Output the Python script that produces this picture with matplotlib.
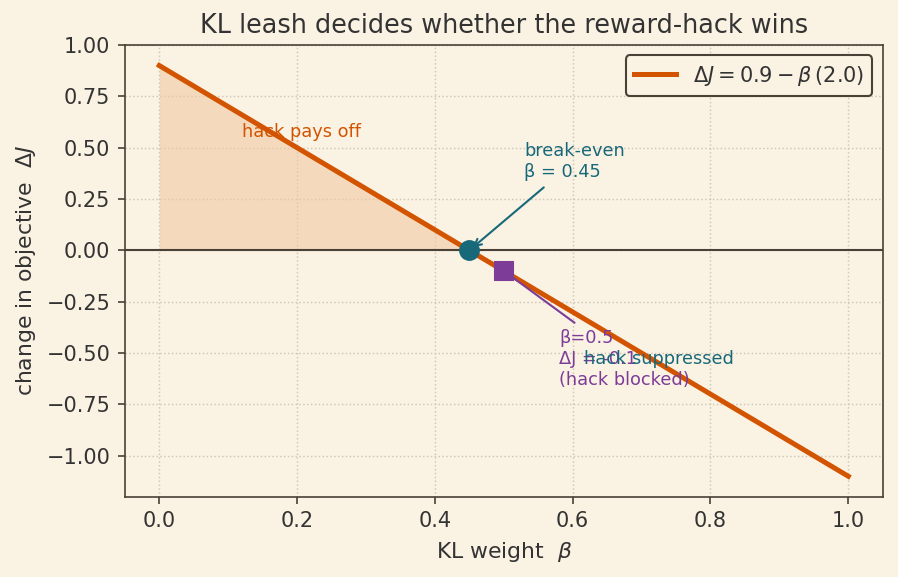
import numpy as np
import matplotlib
matplotlib.use("Agg")
import matplotlib.pyplot as plt

base_gain = 0.9
kl_slope = 2.0
beta_grid = [0.0, 1.0]
delta_grid = [base_gain - kl_slope * b for b in beta_grid]
break_even_beta = 0.45
break_even_delta = 0.0
chosen_beta = 0.5
chosen_delta = -0.1

BG = "#faf2e3"
INK = "#4a4035"
ORANGE = "#d35400"
TEAL = "#17697a"
PURPLE = "#7d3c98"
TXT = "#333333"

plt.rcParams['font.family'] = ['DejaVu Sans']
fig = plt.figure(figsize=(898/150, 577/150), dpi=150, facecolor=BG)
ax = fig.add_axes([0.139, 0.139, 0.844, 0.783], facecolor=BG)

ax.grid(True, linestyle=":", color="#cfc6b6", linewidth=0.7)
ax.set_axisbelow(True)

ax.fill_between([0.0, break_even_beta], [base_gain, break_even_delta], [0, 0],
                color="#f0c9a3", alpha=0.6, linewidth=0)
ax.axhline(0, color=INK, linewidth=1.0)
ax.plot(beta_grid, delta_grid, color=ORANGE, linewidth=2.4,
        label=r"$\Delta J = 0.9 - \beta\,(2.0)$", zorder=3)
ax.plot([break_even_beta], [break_even_delta], "o", color=TEAL, markersize=9, zorder=4)
ax.plot([chosen_beta], [chosen_delta], "s", color=PURPLE, markersize=9, zorder=4)

ax.text(0.12, 0.575, "hack pays off", color=ORANGE, fontsize=8.5, va="center")
ax.annotate("break-even\nβ = 0.45", xy=(break_even_beta, break_even_delta),
            xytext=(0.53, 0.34), color=TEAL, fontsize=8.5, va="bottom", ha="left",
            arrowprops=dict(arrowstyle="->", color=TEAL, lw=1.0))
ax.annotate("β=0.5\nΔJ = -0.1\n(hack blocked)", xy=(chosen_beta, chosen_delta),
            xytext=(0.58, -0.53), color=PURPLE, fontsize=8.5, va="center", ha="left",
            arrowprops=dict(arrowstyle="-", color=PURPLE, lw=1.0))
ax.text(0.617, -0.53, "hack suppressed", color=TEAL, fontsize=8.5, va="center", ha="left")

ax.set_xlim(-0.05, 1.05)
ax.set_ylim(-1.2, 1.0)
ax.set_yticks([1.0, 0.75, 0.5, 0.25, 0.0, -0.25, -0.5, -0.75, -1.0])
ax.tick_params(colors=INK, labelsize=10, labelcolor=TXT)
for s in ax.spines.values():
    s.set_color(INK)

ax.set_xlabel(r"KL weight  $\beta$", fontsize=10.5, color=TXT)
ax.set_ylabel(r"change in objective  $\Delta J$", fontsize=10.5, color=TXT)
ax.set_title("KL leash decides whether the reward-hack wins", fontsize=12.25, color=TXT)

leg = ax.legend(loc="upper right", fontsize=10, facecolor=BG, edgecolor=INK, framealpha=1,
                labelcolor=TXT)
leg.get_frame().set_linewidth(1.0)

fig.savefig("out.png", dpi=150, facecolor=BG)
